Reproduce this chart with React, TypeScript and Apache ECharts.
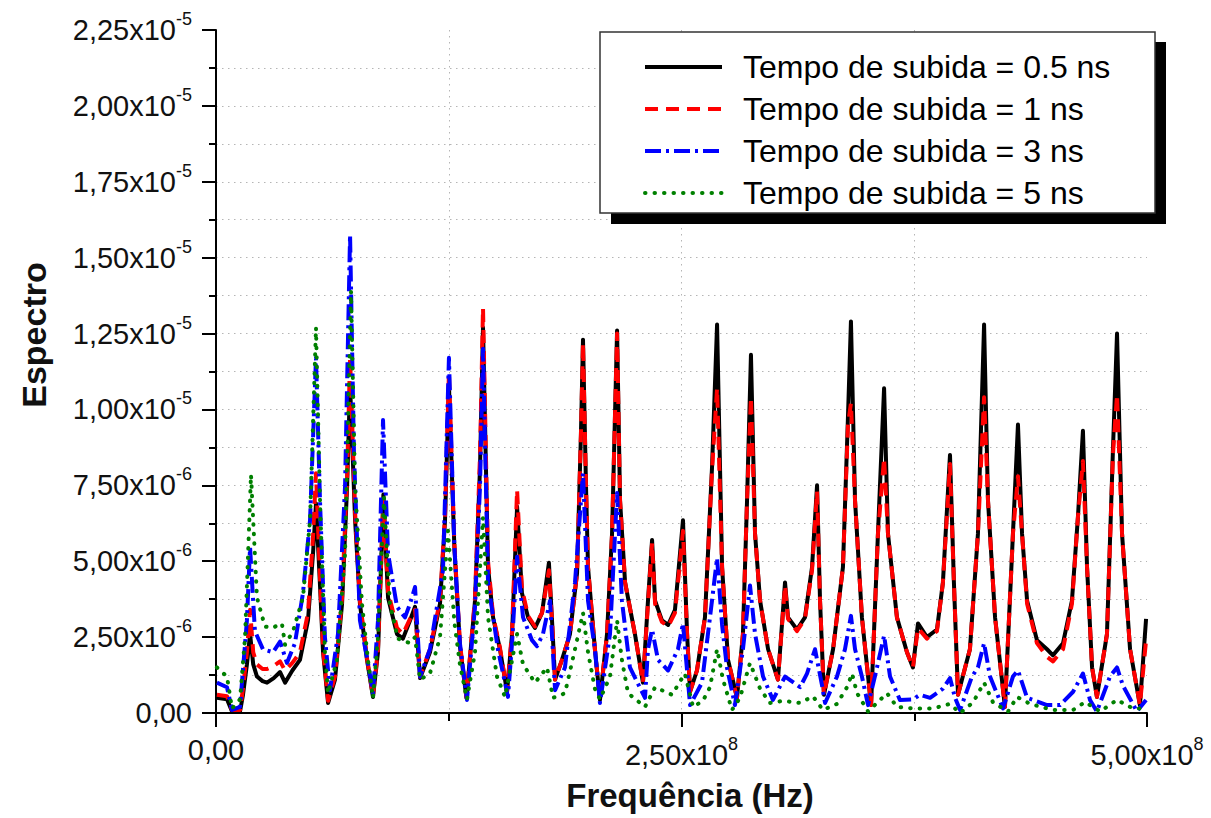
import React, { useEffect, useRef } from 'react';
import * as echarts from 'echarts';

const FONT = '"Liberation Sans", Arial, Helvetica, sans-serif';

const seriesNames = [
  'Tempo de subida = 0.5 ns',
  'Tempo de subida = 1 ns',
  'Tempo de subida = 3 ns',
  'Tempo de subida = 5 ns',
];
const seriesColors = ['#000000', '#ff0000', '#0000ff', '#008000'];

const xTitle = 'Frequência (Hz)';
const yTitle = 'Espectro';

// axis ranges: frequency in MHz (x 1e6 Hz), spectrum in units of 1e-6
const xMin = 0;
const xMax = 500;
const xStep = 250;
const yMin = 0;
const yMax = 22.5;
const yStep = 2.5;

// [frequency (MHz), spectrum (x1e-6)]
const rise05: [number, number][] = [
  [0.5, 0.5], [5.9, 0.45], [8.6, 0.05], [12.9, 0.05], [14.5, 0.6], [16.6, 1.6], [18.3, 2.6], [20.0, 1.6],
  [22.0, 1.2], [25.0, 1.05], [27.4, 1.0], [31.0, 1.15], [34.4, 1.35], [37.1, 1.0], [41.0, 1.4], [45.1, 1.75],
  [49.4, 3.05], [52.1, 5.25], [53.7, 6.9], [55.9, 4.15], [57.5, 2.0], [60.2, 0.33], [63.9, 1.1], [67.7, 3.6],
  [70.4, 7.45], [72.0, 10.8], [74.7, 6.35], [77.3, 3.6], [81.1, 1.75], [84.3, 0.53], [87.0, 2.0], [89.2, 5.8],
  [89.9, 7.2], [92.4, 3.8], [97.2, 2.6], [100.4, 2.45], [104.2, 3.05], [106.9, 3.5], [109.6, 1.15], [114.9, 2.0],
  [120.3, 3.6], [123.0, 6.35], [125.1, 10.8], [128.0, 5.5], [131.0, 2.2], [134.5, 0.5], [139.1, 3.7], [141.8, 8.1],
  [143.4, 12.7], [146.1, 4.8], [148.8, 3.15], [152.5, 2.1], [156.3, 0.7], [159.0, 2.6], [161.7, 6.8], [164.3, 3.95],
  [167.6, 3.15], [171.3, 2.8], [175.1, 3.3], [178.8, 4.95], [180.5, 3.0], [182.1, 1.1], [185.8, 1.75], [190.1, 2.6],
  [193.9, 4.6], [196.0, 9.2], [197.1, 12.3], [198.7, 7.5], [199.8, 4.8], [203.5, 2.1], [206.2, 0.43], [210.0, 2.6],
  [212.7, 5.9], [215.4, 12.6], [217.0, 7.0], [219.7, 4.3], [225.0, 2.6], [229.3, 1.0], [232.0, 3.7], [234.2, 5.7],
  [235.8, 3.7], [239.5, 3.05], [242.8, 2.9], [246.5, 3.4], [250.8, 6.35], [253.0, 2.6], [254.6, 0.7], [258.3, 1.4],
  [262.6, 3.15], [266.4, 8.1], [269.1, 12.8], [271.8, 4.8], [275.0, 1.75], [279.8, 0.5], [283.0, 2.6], [285.2, 7.0],
  [287.3, 11.8], [289.5, 5.9], [292.2, 3.7], [296.5, 2.1], [301.8, 1.1], [305.6, 4.3], [307.2, 3.15], [312.0, 2.75],
  [316.3, 3.15], [320.1, 4.8], [322.8, 7.5], [324.4, 3.7], [326.5, 0.6], [331.4, 2.1], [336.7, 4.8], [339.4, 9.75],
  [341.0, 12.9], [343.2, 7.0], [346.9, 3.15], [351.8, 0.26], [355.5, 5.9], [358.8, 10.7], [360.9, 5.9], [365.7, 3.15],
  [371.1, 2.0], [374.3, 1.5], [377.0, 2.95], [381.8, 2.5], [387.2, 2.75], [390.4, 4.3], [394.2, 8.5], [396.3, 4.3],
  [398.5, 0.6], [404.9, 2.1], [409.2, 5.9], [412.5, 12.8], [414.6, 7.0], [418.4, 3.15], [423.7, 0.2], [428.0, 5.9],
  [430.7, 9.5], [432.9, 5.9], [435.6, 3.7], [440.9, 2.4], [446.3, 2.1], [449.5, 1.9], [454.9, 2.3], [459.7, 3.7],
  [462.9, 6.45], [465.6, 9.3], [467.8, 4.8], [470.5, 1.5], [473.1, 0.53], [478.5, 2.6], [481.7, 8.65], [483.9, 12.5],
  [486.6, 5.9], [490.9, 2.1], [496.2, 0.26], [499.5, 3.1],
];

const rise1: [number, number][] = [
  [0.5, 0.6], [5.9, 0.55], [8.6, 0.1], [12.9, 0.1], [14.5, 0.8], [16.6, 2.0], [18.3, 3.4], [20.0, 2.0],
  [22.0, 1.6], [25.0, 1.45], [27.4, 1.45], [31.0, 1.55], [34.4, 1.7], [37.1, 1.4], [41.0, 1.65], [45.1, 2.0],
  [49.4, 3.3], [52.1, 5.8], [53.7, 7.9], [55.9, 4.4], [57.5, 2.1], [60.2, 0.4], [63.9, 1.2], [67.7, 3.8],
  [70.4, 7.8], [72.0, 11.7], [74.7, 6.6], [77.3, 3.7], [81.1, 1.8], [84.3, 0.55], [87.0, 2.1], [89.2, 5.9],
  [89.9, 7.0], [92.4, 4.0], [97.2, 2.8], [100.4, 2.6], [104.2, 3.1], [106.9, 3.4], [109.6, 1.2], [114.9, 2.1],
  [120.3, 3.7], [123.0, 6.5], [125.1, 11.2], [128.0, 5.6], [131.0, 2.3], [134.5, 0.5], [139.1, 3.8], [141.8, 8.5],
  [143.4, 13.35], [146.1, 5.0], [148.8, 3.2], [152.5, 2.15], [156.3, 0.7], [159.0, 2.7], [161.7, 7.35], [164.3, 4.1],
  [167.6, 3.2], [171.3, 2.85], [175.1, 3.3], [178.8, 4.7], [180.5, 3.0], [182.1, 1.1], [185.8, 1.75], [190.1, 2.6],
  [193.9, 4.6], [196.0, 9.2], [197.1, 12.2], [198.7, 7.5], [199.8, 4.8], [203.5, 2.1], [206.2, 0.43], [210.0, 2.6],
  [212.7, 5.9], [215.4, 12.5], [217.0, 7.0], [219.7, 4.3], [225.0, 2.6], [229.3, 1.0], [232.0, 3.6], [234.2, 5.6],
  [235.8, 3.6], [239.5, 3.0], [242.8, 2.85], [246.5, 3.3], [250.8, 6.0], [253.0, 2.6], [254.6, 0.7], [258.3, 1.4],
  [262.6, 3.15], [266.4, 8.0], [269.1, 10.7], [271.8, 4.8], [275.0, 1.75], [279.8, 0.5], [283.0, 2.6], [285.2, 7.0],
  [287.3, 10.4], [289.5, 5.9], [292.2, 3.7], [296.5, 2.1], [301.8, 1.1], [305.6, 4.2], [307.2, 3.1], [312.0, 2.7],
  [316.3, 3.1], [320.1, 4.7], [322.8, 7.3], [324.4, 3.7], [326.5, 0.6], [331.4, 2.1], [336.7, 4.8], [339.4, 9.5],
  [341.0, 10.2], [343.2, 7.0], [346.9, 3.15], [351.8, 0.26], [355.5, 5.9], [358.8, 8.4], [360.9, 5.9], [365.7, 3.15],
  [371.1, 2.0], [374.3, 1.5], [377.0, 2.8], [381.8, 2.45], [387.2, 2.7], [390.4, 4.3], [394.2, 8.2], [396.3, 4.3],
  [398.5, 0.6], [404.9, 2.1], [409.2, 5.9], [412.5, 10.4], [414.6, 7.0], [418.4, 3.15], [423.7, 0.2], [428.0, 5.9],
  [430.7, 7.8], [432.9, 5.9], [435.6, 3.6], [440.9, 2.3], [446.3, 1.85], [449.5, 1.7], [454.9, 2.1], [459.7, 3.6],
  [462.9, 6.45], [465.6, 8.3], [467.8, 4.8], [470.5, 1.5], [473.1, 0.53], [478.5, 2.6], [481.7, 8.5], [483.9, 10.5],
  [486.6, 5.9], [490.9, 2.1], [496.2, 0.26], [499.5, 2.4],
];

const rise3: [number, number][] = [
  [0.5, 1.0], [5.9, 0.85], [8.6, 0.1], [12.9, 0.2], [16.6, 3.05], [18.3, 5.45], [20.9, 2.7], [25.2, 2.1],
  [30.6, 2.0], [34.4, 2.35], [38.1, 1.65], [42.4, 2.3], [46.7, 3.95], [50.5, 6.35], [53.7, 11.7], [55.9, 6.9],
  [58.5, 2.5], [61.2, 0.75], [65.5, 2.6], [69.3, 7.45], [72.0, 15.75], [74.1, 8.55], [77.3, 3.05], [81.6, 1.65],
  [84.3, 0.65], [87.0, 3.05], [89.7, 9.65], [92.4, 5.25], [97.2, 3.5], [101.5, 3.15], [104.2, 3.6], [106.9, 4.15],
  [109.6, 1.2], [114.9, 2.1], [121.9, 4.7], [125.1, 11.7], [128.0, 5.5], [131.0, 2.3], [134.8, 0.43], [139.1, 3.5],
  [141.8, 7.5], [143.4, 12.0], [146.1, 4.3], [151.4, 2.1], [156.8, 0.53], [159.0, 2.3], [161.7, 5.15], [164.9, 3.15],
  [169.7, 2.4], [172.4, 2.2], [175.6, 2.6], [179.4, 3.7], [182.1, 0.75], [187.4, 1.5], [192.8, 4.3], [197.1, 7.9],
  [199.8, 3.7], [203.5, 2.1], [206.2, 0.33], [211.6, 2.6], [215.4, 7.25], [218.0, 3.7], [222.3, 1.5], [230.4, 0.5],
  [232.0, 2.1], [234.2, 2.75], [237.4, 1.75], [242.8, 1.4], [248.1, 2.1], [250.8, 2.95], [254.6, 0.26], [261.0, 1.0],
  [265.3, 3.15], [269.1, 5.1], [271.8, 2.9], [274.4, 1.5], [278.7, 0.26], [283.0, 2.1], [286.8, 4.2], [289.5, 2.6],
  [293.8, 1.2], [299.1, 0.43], [305.6, 1.2], [313.7, 0.85], [317.4, 1.3], [321.7, 2.1], [325.5, 0.9], [327.1, 0.33],
  [333.5, 1.2], [337.8, 2.1], [341.0, 3.2], [343.2, 2.1], [346.9, 1.2], [350.2, 0.26], [355.0, 1.5], [358.8, 2.55],
  [362.0, 1.2], [367.3, 0.43], [374.3, 0.45], [378.1, 0.6], [383.5, 0.5], [390.4, 0.8], [394.2, 1.15], [396.9, 0.5],
  [399.6, 0.1], [406.0, 1.2], [409.2, 1.5], [412.5, 2.3], [415.7, 1.2], [422.7, 0.15], [428.0, 1.2], [430.7, 1.4],
  [435.6, 0.5], [446.3, 0.26], [453.3, 0.26], [460.3, 0.7], [465.6, 1.3], [469.4, 0.43], [473.1, 0.05], [480.1, 1.2],
  [483.9, 1.5], [487.1, 0.9], [494.6, 0.05], [499.5, 0.43],
];

const rise5: [number, number][] = [
  [0.5, 1.5], [5.9, 1.2], [8.6, 0.15], [12.9, 0.45], [15.6, 2.5], [18.8, 7.85], [22.0, 3.8], [26.3, 2.85],
  [30.1, 2.8], [35.4, 2.95], [37.1, 2.25], [41.4, 2.7], [46.7, 3.8], [50.5, 6.35], [53.7, 12.7], [55.9, 6.9],
  [58.5, 2.0], [60.2, 0.65], [65.0, 1.75], [69.3, 5.25], [72.5, 13.9], [74.7, 7.45], [78.4, 3.6], [81.6, 1.75],
  [84.3, 0.5], [87.0, 2.5], [90.2, 7.1], [93.4, 3.6], [97.7, 2.45], [104.2, 2.3], [106.9, 2.5], [109.6, 1.1],
  [114.9, 1.3], [120.3, 2.5], [124.6, 6.0], [128.0, 3.0], [131.0, 1.6], [134.8, 0.45], [139.1, 2.0], [143.4, 6.45],
  [146.1, 3.15], [150.9, 1.2], [155.2, 0.53], [161.7, 2.6], [164.9, 1.6], [171.3, 1.0], [177.8, 1.5], [181.0, 0.5],
  [187.4, 0.65], [192.8, 2.1], [197.1, 3.3], [199.8, 2.0], [203.5, 0.8], [206.2, 0.45], [211.6, 1.2], [215.4, 3.05],
  [218.0, 1.75], [221.3, 0.65], [230.4, 0.2], [235.8, 0.85], [244.9, 0.6], [251.8, 1.3], [256.2, 0.2], [261.5, 0.4],
  [265.3, 0.85], [269.1, 2.1], [272.3, 1.1], [277.1, 0.1], [281.4, 0.5], [286.8, 1.65], [292.2, 0.8], [297.5, 0.33],
  [304.5, 0.4], [313.7, 0.33], [320.6, 0.55], [326.0, 0.1], [333.5, 0.3], [338.9, 0.85], [341.6, 1.3], [344.3, 0.65],
  [350.2, 0.05], [356.6, 0.43], [360.4, 0.65], [365.7, 0.2], [374.3, 0.15], [385.1, 0.15], [394.2, 0.3], [399.6, 0.0],
  [406.6, 0.35], [412.5, 1.0], [417.3, 0.35], [425.4, 0.05], [430.2, 0.53], [437.2, 0.3], [449.5, 0.1], [460.3, 0.1],
  [466.7, 0.36], [474.8, 0.05], [483.9, 0.43], [492.5, 0.15], [499.5, 0.15],
];

const seriesData = [rise05, rise1, rise3, rise5];
const seriesDash: any[] = ['solid', [13, 8], [16, 5, 3, 5], [0.5, 9]];
const seriesCap: any[] = ['butt', 'butt', 'butt', 'round'];

const fmtMant = (m: number) => m.toFixed(2).replace('.', ',');

const yLabel = (v: number) => {
  if (Math.abs(v) < 1e-9) return '{b|0,00}';
  if (v >= 10 - 1e-9) return `{b|${fmtMant(v / 10)}x10}{s|-5}`;
  return `{b|${fmtMant(v)}x10}{s|-6}`;
};

const xLabel = (v: number) => {
  if (Math.abs(v) < 1e-9) return '{b|0,00}';
  return `{b|${fmtMant(v / 100)}x10}{s|8}`;
};

const labelRich = {
  b: { fontSize: 29, fontFamily: FONT, color: '#111' },
  s: { fontSize: 18, fontFamily: FONT, color: '#111', padding: [0, 0, 22, 0] },
};

const gridStyle = { color: '#b5b5b5', width: 1, type: [1.5, 4.5] as any };

export default function App() {
  const ref = useRef<HTMLDivElement>(null);

  useEffect(() => {
    document.body.style.margin = '0';
    if (!ref.current) return;
    const chart = echarts.init(ref.current, undefined, { renderer: 'svg' });

    const series = seriesData.map((d, i) => ({
      name: seriesNames[i],
      type: 'line',
      data: d,
      showSymbol: false,
      symbol: 'none',
      smooth: false,
      lineStyle: {
        color: seriesColors[i],
        width: 4,
        type: seriesDash[i],
        cap: seriesCap[i],
        join: 'round',
      },
      itemStyle: { color: seriesColors[i] },
      z: 2 + i,
    }));

    chart.setOption({
      animation: false,
      backgroundColor: '#ffffff',
      grid: {
        left: 216,
        right: 64,
        top: 30,
        bottom: 105,
        containLabel: false,
        outerBoundsMode: 'none',
      },
      xAxis: {
        type: 'value',
        min: xMin,
        max: xMax,
        interval: xStep,
        axisLine: { show: true, lineStyle: { color: '#000', width: 2 } },
        axisTick: { show: true, inside: false, length: 14, lineStyle: { color: '#000', width: 2 } },
        minorTick: { show: true, splitNumber: 2, length: 8, lineStyle: { color: '#000', width: 2 } },
        splitLine: { show: true, showMinLine: false, showMaxLine: false, lineStyle: gridStyle },
        minorSplitLine: { show: true, lineStyle: gridStyle },
        axisLabel: { margin: 22, formatter: xLabel, rich: labelRich },
      },
      yAxis: {
        type: 'value',
        min: yMin,
        max: yMax,
        interval: yStep,
        axisLine: { show: true, lineStyle: { color: '#000', width: 2 } },
        axisTick: { show: true, inside: false, length: 14, lineStyle: { color: '#000', width: 2 } },
        minorTick: { show: true, splitNumber: 2, length: 7, lineStyle: { color: '#000', width: 2 } },
        splitLine: { show: true, showMinLine: false, showMaxLine: false, lineStyle: gridStyle },
        minorSplitLine: { show: true, lineStyle: gridStyle },
        axisLabel: { margin: 24, formatter: yLabel, rich: labelRich },
      },
      legend: {
        orient: 'vertical',
        left: 638,
        top: 46,
        itemWidth: 77,
        itemHeight: 14,
        itemGap: 10,
        z: 20,
        data: seriesNames,
        itemStyle: { opacity: 0 },
        lineStyle: { width: 4 },
        textStyle: { fontSize: 32, fontFamily: FONT, color: '#000', padding: [0, 0, 0, 16] },
      },
      graphic: [
        {
          type: 'rect',
          z: 10,
          shape: { x: 611, y: 42, width: 555, height: 182 },
          style: { fill: '#000' },
          silent: true,
        },
        {
          type: 'rect',
          z: 11,
          shape: { x: 600, y: 32, width: 555, height: 181 },
          style: { fill: '#fff', stroke: '#333', lineWidth: 1.5 },
          silent: true,
        },
        {
          type: 'text',
          z: 12,
          x: 690,
          y: 795,
          style: {
            text: xTitle,
            font: `bold 33px ${FONT}`,
            fill: '#111',
            align: 'center',
            verticalAlign: 'middle',
          },
        },
        {
          type: 'text',
          z: 12,
          x: 34,
          y: 335,
          rotation: Math.PI / 2,
          style: {
            text: yTitle,
            font: `bold 34px ${FONT}`,
            fill: '#111',
            align: 'center',
            verticalAlign: 'middle',
          },
        },
      ],
      series,
    });

    return () => {
      chart.dispose();
    };
  }, []);

  return <div ref={ref} style={{ width: 1211, height: 818 }} />;
}
